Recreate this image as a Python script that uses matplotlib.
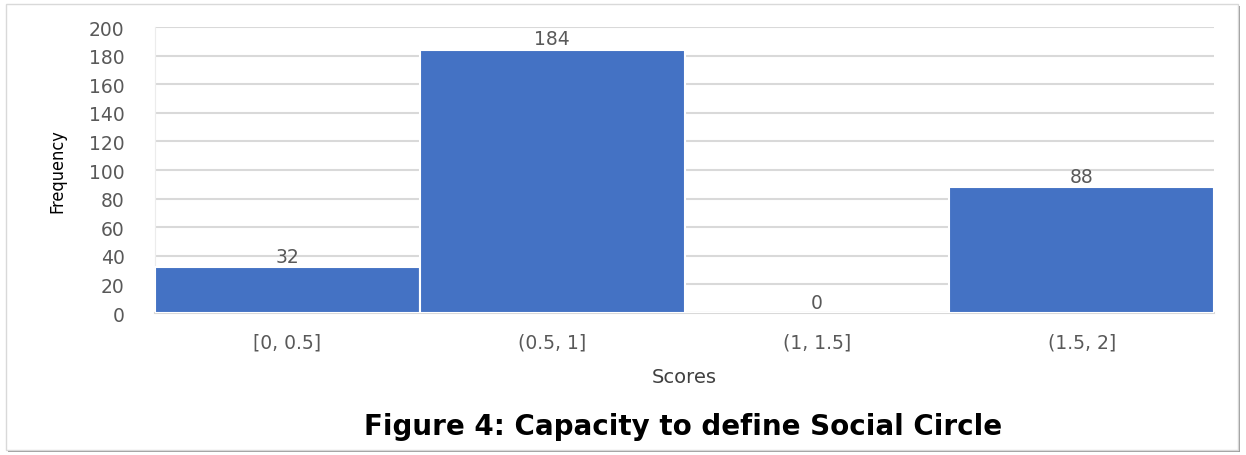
import matplotlib.pyplot as plt
from matplotlib.patches import Rectangle

# values
categories = ['[0, 0.5]', '(0.5, 1]', '(1, 1.5]', '(1.5, 2]']
frequency = [32, 184, 0, 88]
y_ticks = [0, 20, 40, 60, 80, 100, 120, 140, 160, 180, 200]

bar_color = '#4472C4'
text_grey = '#595959'

fig = plt.figure(figsize=(12.46, 4.56), dpi=100)

# outer frame with a little shadow on the right / bottom
fig.patches.append(Rectangle((8 / 1246, 3 / 456), 1232 / 1246, 446 / 456,
                             transform=fig.transFigure, facecolor='#9a9a9a',
                             edgecolor='none', zorder=-3))
fig.patches.append(Rectangle((6 / 1246, 5 / 456), 1232 / 1246, 446 / 456,
                             transform=fig.transFigure, facecolor='white',
                             edgecolor='#d9d9d9', linewidth=1.0, zorder=-2))

ax = fig.add_axes([155 / 1246, 1 - 314 / 456, 1059 / 1246, 286 / 456])
ax.set_facecolor('none')

x = range(len(categories))
bars = ax.bar(x, frequency, width=1.0, color=bar_color, edgecolor='white',
              linewidth=1.5, zorder=3)

# data labels
for xi, v in zip(x, frequency):
    ax.text(xi, v + 1.0, str(v), ha='center', va='bottom', fontsize=13.5,
            color=text_grey, zorder=4)

ax.set_xlim(-0.5, len(categories) - 0.5)
ax.set_ylim(0, 200)
ax.set_yticks(y_ticks)
ax.set_xticks(list(x))
ax.set_xticklabels(categories)
ax.tick_params(axis='both', length=0, labelsize=13.5, labelcolor=text_grey)
ax.tick_params(axis='y', pad=22)
ax.tick_params(axis='x', pad=14)

ax.grid(axis='y', color='#d9d9d9', linewidth=1.5, zorder=0)
for side in ['top', 'right']:
    ax.spines[side].set_visible(False)
ax.spines['left'].set_color('#ececec')
ax.spines['bottom'].set_color('#d9d9d9')
ax.spines['bottom'].set_linewidth(1.5)

ax.set_ylabel('Frequency', fontsize=13, color='black', fontstretch='condensed',
              labelpad=16)
ax.set_xlabel('Scores', fontsize=14, color='#404040', labelpad=11)

fig.text(0.548, 1 - 427 / 456, 'Figure 4: Capacity to define Social Circle',
         ha='center', va='center', fontsize=20, fontweight='bold', color='black')

fig.savefig('out.png', dpi=100)
